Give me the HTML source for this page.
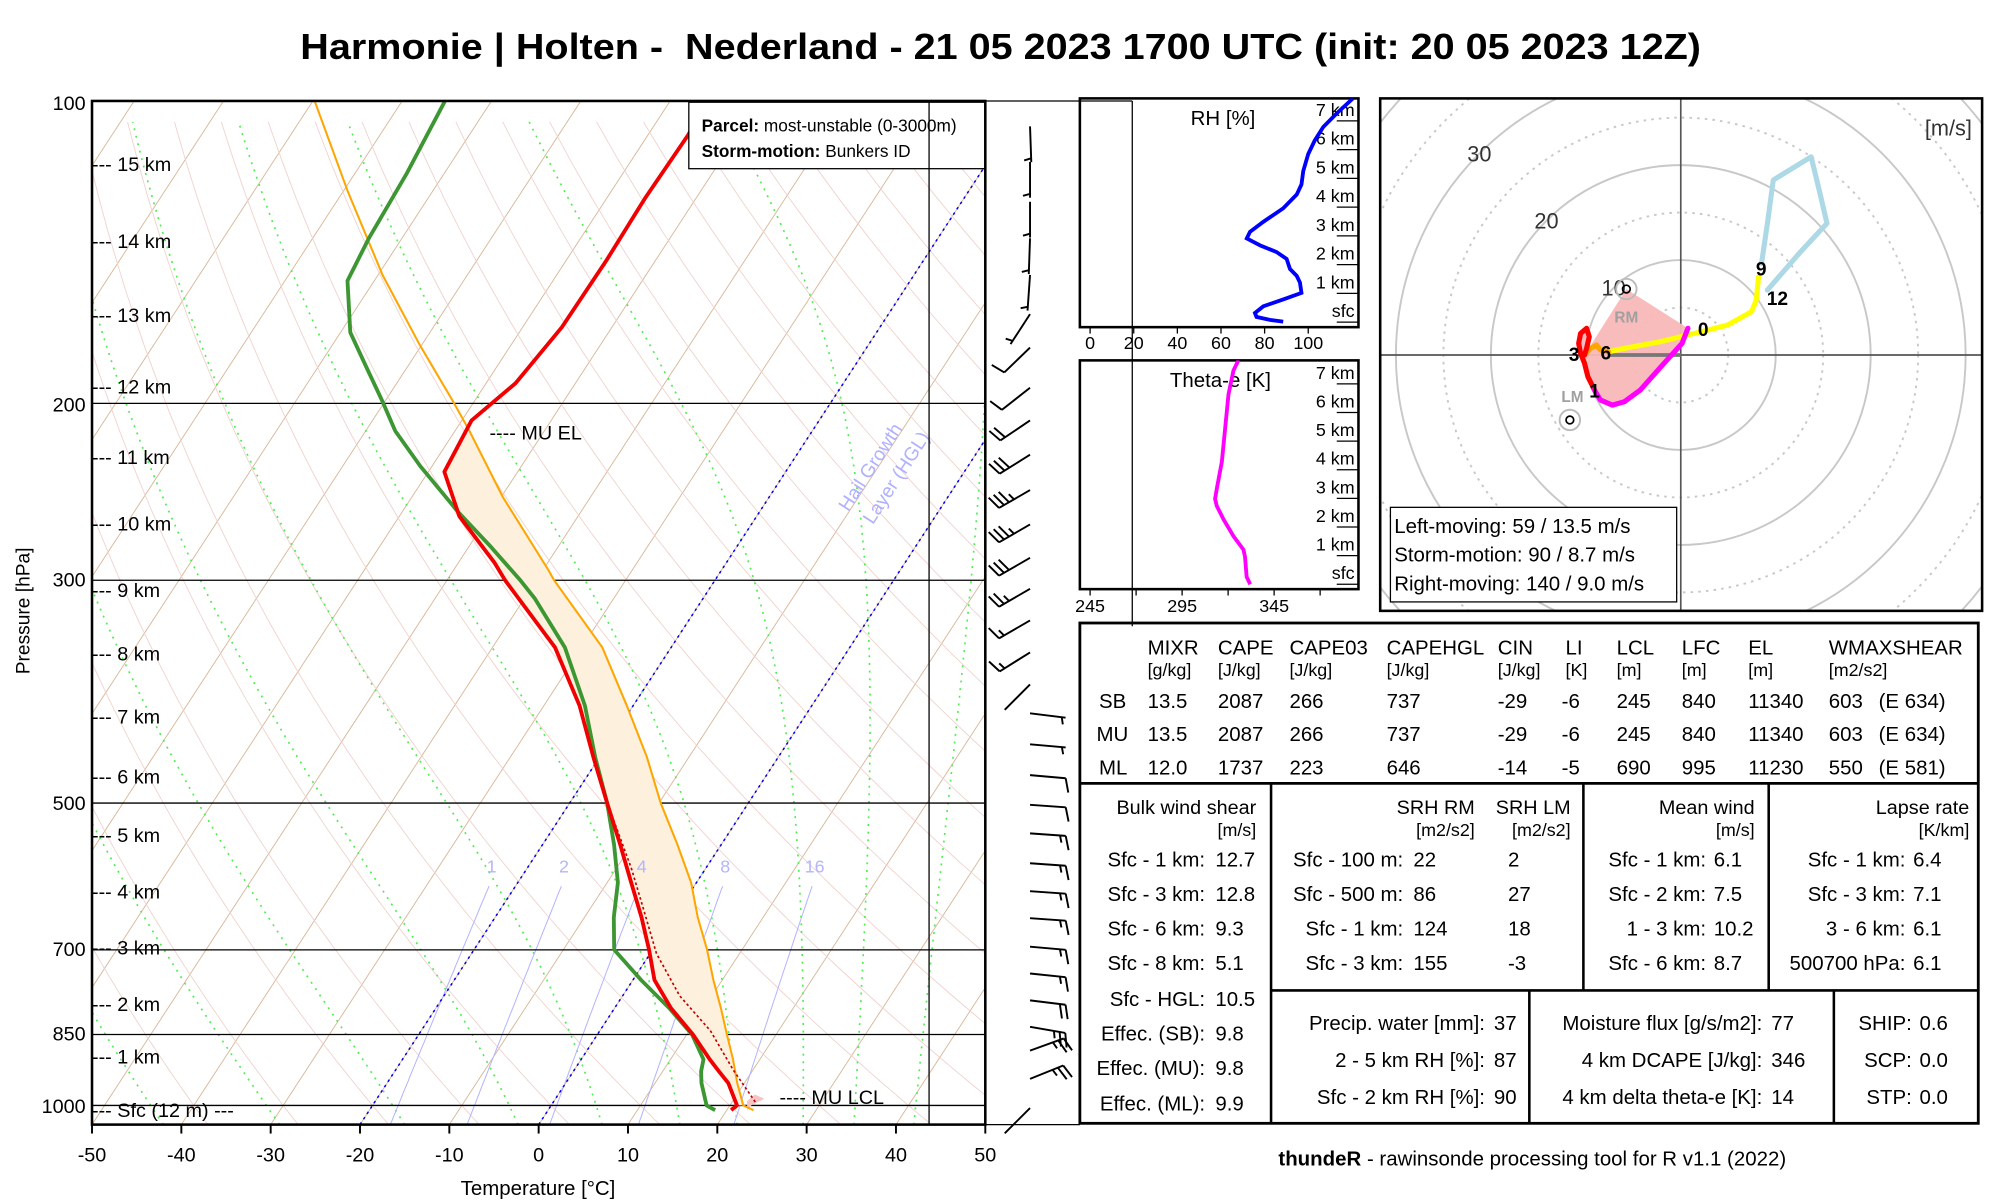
<!DOCTYPE html>
<html><head><meta charset="utf-8">
<style>
html,body{margin:0;padding:0;background:#fff;}
svg{display:block;font-family:"Liberation Sans",Arial,sans-serif;}
</style></head>
<body>
<svg id="chart" xmlns="http://www.w3.org/2000/svg" width="2000" height="1200" viewBox="0 0 1565 939" preserveAspectRatio="none">
<defs>
<clipPath id="skewClip"><rect x="72" y="79" width="699" height="801"/></clipPath>
<clipPath id="rhClip"><rect x="845" y="77" width="218" height="179"/></clipPath>
<clipPath id="thClip"><rect x="845" y="282" width="218" height="179"/></clipPath>
<clipPath id="hodoClip"><rect x="1080" y="77" width="471" height="401"/></clipPath>
</defs>
<rect x="0" y="0" width="1565" height="939" fill="#fff"/>
<text x="783" y="46" text-anchor="middle" font-size="28" font-weight="bold" textLength="1096" lengthAdjust="spacingAndGlyphs" xml:space="preserve">Harmonie | Holten -  Nederland - 21 05 2023 1700 UTC (init: 20 05 2023 12Z)</text>

<g id="skewBg" clip-path="url(#skewClip)"></g>
<g id="skewData" clip-path="url(#skewClip)"></g>
<g id="skewAxes" font-size="15.5">
<text x="67" y="86" text-anchor="end">100</text>
<text x="67" y="322" text-anchor="end">200</text>
<text x="67" y="459" text-anchor="end">300</text>
<text x="67" y="634" text-anchor="end">500</text>
<text x="67" y="748" text-anchor="end">700</text>
<text x="67" y="814" text-anchor="end">850</text>
<text x="67" y="871" text-anchor="end">1000</text>
<text transform="translate(23,478) rotate(-90)" text-anchor="middle" font-size="15">Pressure [hPa]</text>
<text x="421" y="935" text-anchor="middle" font-size="16">Temperature [°C]</text>
</g>
<g id="heightLabels" font-size="15.5">
<text x="72" y="134">--- 15 km</text><text x="72" y="194">--- 14 km</text><text x="72" y="252">--- 13 km</text>
<text x="72" y="308">--- 12 km</text><text x="72" y="363">--- 11 km</text><text x="72" y="415">--- 10 km</text>
<text x="72" y="467">--- 9 km</text><text x="72" y="517">--- 8 km</text><text x="72" y="566">--- 7 km</text>
<text x="72" y="613">--- 6 km</text><text x="72" y="659">--- 5 km</text><text x="72" y="703">--- 4 km</text>
<text x="72" y="747">--- 3 km</text><text x="72" y="791">--- 2 km</text><text x="72" y="832">--- 1 km</text>
<text x="72" y="874">--- Sfc (12 m) ---</text>
</g>
<text x="383" y="344" font-size="15.5">---- MU EL</text>
<text x="610" y="864" font-size="15.5">---- MU LCL</text>
<g fill="#b0b0ff" font-size="15">
<text transform="translate(664,401) rotate(-57)">Hail Growth</text>
<text transform="translate(683,411) rotate(-57)">Layer (HGL)</text>
</g>
<g>
<rect x="539" y="80" width="232" height="52" fill="#fff" stroke="#000" stroke-width="1"/>
<text x="549" y="103" font-size="13.5"><tspan font-weight="bold">Parcel:</tspan> most-unstable (0-3000m)</text>
<text x="549" y="123" font-size="13.5"><tspan font-weight="bold">Storm-motion:</tspan> Bunkers ID</text>
</g>
<g id="barbs"></g>

<g id="rhPanel"></g>
<g id="thPanel"></g>
<g id="hodo"></g>

<g id="table" font-size="16">
<rect x="845" y="487.5" width="703" height="391.5" fill="none" stroke="#000" stroke-width="2.2"/>
<line x1="845" y1="613" x2="1548" y2="613" stroke="#000" stroke-width="2.2"/>
<line x1="994.6" y1="613" x2="994.6" y2="879" stroke="#000" stroke-width="2"/>
<line x1="1239" y1="613" x2="1239" y2="775" stroke="#000" stroke-width="2"/>
<line x1="1384" y1="613" x2="1384" y2="775" stroke="#000" stroke-width="2"/>
<line x1="994.6" y1="775" x2="1548" y2="775" stroke="#000" stroke-width="2"/>
<line x1="1196.7" y1="775" x2="1196.7" y2="879" stroke="#000" stroke-width="2"/>
<line x1="1435" y1="775" x2="1435" y2="879" stroke="#000" stroke-width="2"/>
<g>
<text x="898" y="512">MIXR</text><text x="953" y="512">CAPE</text><text x="1009" y="512">CAPE03</text><text x="1085" y="512">CAPEHGL</text><text x="1172" y="512">CIN</text><text x="1225" y="512">LI</text><text x="1265" y="512">LCL</text><text x="1316" y="512">LFC</text><text x="1368" y="512">EL</text><text x="1431" y="512">WMAXSHEAR</text>
<text x="898" y="529" font-size="14">[g/kg]</text><text x="953" y="529" font-size="14">[J/kg]</text><text x="1009" y="529" font-size="14">[J/kg]</text><text x="1085" y="529" font-size="14">[J/kg]</text><text x="1172" y="529" font-size="14">[J/kg]</text><text x="1225" y="529" font-size="14">[K]</text><text x="1265" y="529" font-size="14">[m]</text><text x="1316" y="529" font-size="14">[m]</text><text x="1368" y="529" font-size="14">[m]</text><text x="1431" y="529" font-size="14">[m2/s2]</text>
</g>
<g><text x="860" y="554">SB</text><text x="898" y="554">13.5</text><text x="953" y="554">2087</text><text x="1009" y="554">266</text><text x="1085" y="554">737</text><text x="1172" y="554">-29</text><text x="1222" y="554">-6</text><text x="1265" y="554">245</text><text x="1316" y="554">840</text><text x="1368" y="554">11340</text><text x="1431" y="554">603</text><text x="1470" y="554">(E 634)</text></g>
<g><text x="858" y="580">MU</text><text x="898" y="580">13.5</text><text x="953" y="580">2087</text><text x="1009" y="580">266</text><text x="1085" y="580">737</text><text x="1172" y="580">-29</text><text x="1222" y="580">-6</text><text x="1265" y="580">245</text><text x="1316" y="580">840</text><text x="1368" y="580">11340</text><text x="1431" y="580">603</text><text x="1470" y="580">(E 634)</text></g>
<g><text x="860" y="606">ML</text><text x="898" y="606">12.0</text><text x="953" y="606">1737</text><text x="1009" y="606">223</text><text x="1085" y="606">646</text><text x="1172" y="606">-14</text><text x="1222" y="606">-5</text><text x="1265" y="606">690</text><text x="1316" y="606">995</text><text x="1368" y="606">11230</text><text x="1431" y="606">550</text><text x="1470" y="606">(E 581)</text></g>

<g>
<text x="983" y="637" text-anchor="end" font-size="15.5">Bulk wind shear</text><text x="983" y="654" text-anchor="end" font-size="14">[m/s]</text>
<g text-anchor="end"><text x="943" y="678">Sfc - 1 km:</text><text x="943" y="705">Sfc - 3 km:</text><text x="943" y="732">Sfc - 6 km:</text><text x="943" y="759">Sfc - 8 km:</text><text x="943" y="787">Sfc - HGL:</text><text x="943" y="814">Effec. (SB):</text><text x="943" y="841">Effec. (MU):</text><text x="943" y="869">Effec. (ML):</text></g>
<text x="951" y="678">12.7</text><text x="951" y="705">12.8</text><text x="951" y="732">9.3</text><text x="951" y="759">5.1</text><text x="951" y="787">10.5</text><text x="951" y="814">9.8</text><text x="951" y="841">9.8</text><text x="951" y="869">9.9</text>
</g>
<g>
<text x="1154" y="637" text-anchor="end" font-size="15.5">SRH RM</text><text x="1229" y="637" text-anchor="end" font-size="15.5">SRH LM</text>
<text x="1154" y="654" text-anchor="end" font-size="14">[m2/s2]</text><text x="1229" y="654" text-anchor="end" font-size="14">[m2/s2]</text>
<g text-anchor="end"><text x="1098" y="678">Sfc - 100 m:</text><text x="1098" y="705">Sfc - 500 m:</text><text x="1098" y="732">Sfc - 1 km:</text><text x="1098" y="759">Sfc - 3 km:</text></g>
<text x="1106" y="678">22</text><text x="1106" y="705">86</text><text x="1106" y="732">124</text><text x="1106" y="759">155</text>
<text x="1180" y="678">2</text><text x="1180" y="705">27</text><text x="1180" y="732">18</text><text x="1180" y="759">-3</text>
</g>
<g>
<text x="1373" y="637" text-anchor="end" font-size="15.5">Mean wind</text><text x="1373" y="654" text-anchor="end" font-size="14">[m/s]</text>
<g text-anchor="end"><text x="1335" y="678">Sfc - 1 km:</text><text x="1335" y="705">Sfc - 2 km:</text><text x="1335" y="732">1 - 3 km:</text><text x="1335" y="759">Sfc - 6 km:</text></g>
<text x="1341" y="678">6.1</text><text x="1341" y="705">7.5</text><text x="1341" y="732">10.2</text><text x="1341" y="759">8.7</text>
</g>
<g>
<text x="1541" y="637" text-anchor="end" font-size="15.5">Lapse rate</text><text x="1541" y="654" text-anchor="end" font-size="14">[K/km]</text>
<g text-anchor="end"><text x="1491" y="678">Sfc - 1 km:</text><text x="1491" y="705">Sfc - 3 km:</text><text x="1491" y="732">3 - 6 km:</text><text x="1491" y="759">500700 hPa:</text></g>
<text x="1497" y="678">6.4</text><text x="1497" y="705">7.1</text><text x="1497" y="732">6.1</text><text x="1497" y="759">6.1</text>
</g>
<g>
<g text-anchor="end"><text x="1162" y="806">Precip. water [mm]:</text><text x="1162" y="835">2 - 5 km RH [%]:</text><text x="1162" y="864">Sfc - 2 km RH [%]:</text>
<text x="1379" y="806">Moisture flux [g/s/m2]:</text><text x="1379" y="835">4 km DCAPE [J/kg]:</text><text x="1379" y="864">4 km delta theta-e [K]:</text>
<text x="1496" y="806">SHIP:</text><text x="1496" y="835">SCP:</text><text x="1496" y="864">STP:</text></g>
<text x="1169" y="806">37</text><text x="1169" y="835">87</text><text x="1169" y="864">90</text>
<text x="1386" y="806">77</text><text x="1386" y="835">346</text><text x="1386" y="864">14</text>
<text x="1502" y="806">0.6</text><text x="1502" y="835">0.0</text><text x="1502" y="864">0.0</text>
</g>
</g>
<text x="1199" y="912" text-anchor="middle" font-size="16"><tspan font-weight="bold">thundeR</tspan> - rawinsonde processing tool for R v1.1 (2022)</text>
</svg>

<script>
// ===== Sounding data =====
const tempP = [1011,1000,950,925,900,850,800,750,700,650,600,550,500,450,400,350,300,288,259,234,208,191,168,144,125,108,100];
const tempT = [20.5,20.8,18.2,16.3,14.4,10.7,6.3,2.4,-0.4,-3.6,-7.3,-11.3,-15.8,-20.7,-26.0,-33.0,-43.5,-46.0,-53.3,-58.2,-58.9,-56.7,-55.6,-55.5,-55.7,-55.5,-55.9];
const dewP = [1011,1000,950,925,900,850,800,750,700,650,600,550,500,450,400,350,313,300,278,257,231,213,199,184,170,151,137,118,100];
const dewT = [18.7,17.4,15.2,14.3,13.7,10.6,6.1,0.9,-4.3,-6.7,-8.8,-12.0,-15.8,-20.5,-25.4,-31.9,-38.8,-41.8,-47.5,-53.6,-61.3,-66.7,-70.3,-74.6,-78.9,-83.0,-83.7,-84.2,-85.2];
const parcelP = [1011,1000,950,900,850,800,750,700,650,600,550,500,450,400,350,300,293,248,213,199,175,149,123,100];
const parcelT = [23.0,21.5,19.2,17.0,14.5,11.9,9.0,6.1,2.7,-0.6,-4.9,-9.8,-14.7,-20.7,-27.7,-38.0,-39.4,-49.8,-58.4,-62.4,-70.2,-79.5,-89.5,-99.8];
const tvP = [992,922,843,778,706,643,581,513];
const tvT = [22.6,17.8,12.4,6.4,0.7,-3.6,-8.3,-14.5];
const cinP = [1011,1000,985,975,990];
const cinT = [22.3,22.4,23.4,22.0,21.6];
const pressureTicks = [100,200,300,500,700,850,1000];
const tempTicks = [-50,-40,-30,-20,-10,0,10,20,30,40,50];
const mixRatios = [1,2,4,8,16];
// wind barbs
const barbP = [106,115,126,137,149,163,176,193,208,225,244,264,285,306,329,354,381,407,437,469,502,536,574,612,651,695,739,786,835,882,941,1006];
const barbDir = [178,180,180,182,184,213,226,232,236,238,240,240,240,240,240,238,225,97,95,95,94,94,94,94,94,95,96,97,100,70,68,225];
const barbSpd = [5,5,5,5,5,5,10,10,20,30,35,35,30,25,15,15,0,5,5,10,10,15,15,15,15,15,15,20,25,25,25,3];
// RH and theta-e profiles
const rhH = [0.02,0.08,0.18,0.32,0.55,0.79,1.02,1.38,1.61,1.85,2.2,2.44,2.67,2.91,3.14,3.49,3.96,4.44,4.79,5.26,5.85,6.32,6.79,7.26,7.79];
const rhV = [88.5,82.4,76.3,75.6,79.4,88.5,96.9,96.2,94.7,91.6,90.1,85.5,77.9,71.8,73.3,79.4,88.5,94.7,96.9,97.7,100,103,106.9,113,120.6];
const thH = [0,0.26,0.97,1.21,1.68,2.27,2.74,2.98,3.33,4.28,5.46,6.64,7.47,7.83];
const thV = [332,330.1,329.2,328.3,322.9,317.5,313.8,312.9,313.8,316.6,318.4,320.2,322.9,325.6];
const rhTicks = [0,20,40,60,80,100];
const thTicks = [245,295,345];
// hodograph (u, v in m/s)
const hodoMagU = [0.75,0.13,-1.76,-4.27,-5.94,-7.2,-8.46,-9.08];
const hodoMagV = [2.81,1.23,-0.88,-3.69,-4.91,-5.27,-4.74,-3.69];
const hodoRedU = [-9.08,-9.79,-10.13,-10.55,-10.76,-10.55,-9.92,-9.63,-9.92,-10.13];
const hodoRedV = [-3.69,-2.28,-0.88,0.18,1.23,2.28,2.81,1.93,0.70,0];
const hodoOrU = [-10.13,-9.5,-8.87,-8.46,-7.62];
const hodoOrV = [0,0.7,1.05,0.53,0.35];
const hodoYelU = [-7.62,-5.94,-2.18,0.75,2.85,4.94,7.45,7.95,8.2];
const hodoYelV = [0.35,0.70,1.4,2.11,2.63,3.16,4.56,5.79,8.25];
const hodoBlueU = [8.5,9.12,9.75,13.73,14.57,15.4,12.47,9.12];
const hodoBlueV = [9.65,13.86,18.43,20.88,17.37,13.86,10.71,6.84];
const rmU = -5.73, rmV = 6.95, lmU = -11.68, lmV = -6.84;
const ringSpeeds = [5,10,15,20,25,30,35,40,45];
const ringLabels = [10,20,30];

const NS = "http://www.w3.org/2000/svg";
const svg = document.getElementById('chart');
function mk(tag, parent){ const e = document.createElementNS(NS, tag); parent.appendChild(e); return e; }
function set(e, o){ for (const k in o) e.setAttribute(k, o[k]); return e; }

// ===== Skew-T axes =====
const X0 = 421.5, DX = 6.99, K = 0.652, YB = 880;
function yP(p){ return 79 + 786*Math.log10(p/100); }
function xT(T,p){ return X0 + DX*T + K*(YB - yP(p)); }
function pFromY(y){ return 100*Math.pow(10,(y-79)/786); }
const PB = pFromY(880);

const bg = document.getElementById('skewBg');
function polyline(parent, pts, style){ const e = mk('polyline', parent); set(e, Object.assign({points: pts.map(q=>q[0].toFixed(1)+','+q[1].toFixed(1)).join(' '), fill:'none'}, style)); return e; }

for (let T=-160; T<=50; T+=10){
  const l = polyline(bg, [[xT(T,PB),yP(PB)],[xT(T,100),yP(100)]], {stroke:'#d6b596','stroke-width':0.7});
  
  
}
for (let th=-40; th<=250; th+=10){
  const pts=[]; for (let p=PB; p>=99; p-=10){ const T=(th+273.15)*Math.pow(p/1000,0.2857)-273.15; pts.push([xT(T,p),yP(p)]); }
  const l = polyline(bg, pts, {stroke:'#efd2cd','stroke-width':0.7});
  
  
}
function es(T){ return 6.112*Math.exp(17.67*T/(T+243.5)); }
[-42,-29,-15,-2.3,7.1,15.8,22.2,29.6,35.3,42].forEach(T0=>{
  let T=T0, pts=[];
  for (let p=PB; p>=100; p-=5){
    pts.push([xT(T,p),yP(p)]);
    const Tk=T+273.15, e=es(T), rs=0.622*e/(p-e);
    const dTdp=(287*Tk+2.5e6*rs)/(1004+(2.5e6*2.5e6*rs*0.622)/(287*Tk*Tk))/p;
    T -= dTdp*5;
  }
  const l = polyline(bg, pts, {stroke:'#4cee4c','stroke-width':1.3,'stroke-dasharray':'1.5,4.5'});
  
  
});
mixRatios.forEach(w=>{
  const pts=[]; for (let p=PB; p>=600; p-=10){ const e=w/1000*p/(0.622+w/1000); const a=Math.log(e/6.112); const Td=243.5*a/(17.67-a); pts.push([xT(Td,p),yP(p)]); }
  const l = polyline(bg, pts, {stroke:'#b4b4ff','stroke-width':0.8});
  
  
  const t = mk('text', svg); set(t,{x:pts[pts.length-1][0]+2, y:yP(600)-8, 'font-size':14, fill:'#b4b4ff','text-anchor':'middle'}); t.textContent=String(w);
  
  
});
[0,-20].forEach(T=>{
  const l = polyline(bg, [[xT(T,PB),yP(PB)],[xT(T,100),yP(100)]], {stroke:'#0000ee','stroke-width':1.2,'stroke-dasharray':'2,3'});
  
  
});
pressureTicks.forEach(p=>{
  const l = mk('line', bg); set(l,{x1:72,x2:771,y1:yP(p),y2:yP(p),stroke:'#000','stroke-width':1});
  
  
});
{ const l = mk('line', svg); set(l,{x1:727,x2:727,y1:79,y2:880,stroke:'#000','stroke-width':1});
  
   }

const dg = document.getElementById('skewData');
function seriesPts(P,T){ return P.map((p,i)=>[xT(T[i],p),yP(p)]); }
{
  const up = []; parcelP.forEach((p,i)=>{ if(p<=1000 && p>=213) up.push([xT(parcelT[i],p),yP(p)]); });
  const dn = []; tempP.forEach((p,i)=>{ if(p<=1000 && p>=213) dn.push([xT(tempT[i],p),yP(p)]); });
  const pts = up.concat(dn.reverse());
  const a = mk('polygon', dg); set(a,{points:pts.map(q=>q[0].toFixed(1)+','+q[1].toFixed(1)).join(' '), fill:'#fdf0dc', stroke:'none'});
  
  
  const c = mk('polygon', dg); set(c,{points:seriesPts(cinP,cinT).map(q=>q[0].toFixed(1)+','+q[1].toFixed(1)).join(' '), fill:'#f7c4c4'});
  
  
}
{ const l = polyline(dg, seriesPts(parcelP,parcelT), {stroke:'#ffa500','stroke-width':1.6});
  
   }
{ const l = polyline(dg, seriesPts(tvP,tvT), {stroke:'#c00000','stroke-width':1.3,'stroke-dasharray':'2,2'});
  
   }
{ const l = polyline(dg, seriesPts(dewP,dewT), {stroke:'#3c9632','stroke-width':3,'stroke-linejoin':'round'});
  
   }
{ const l = polyline(dg, seriesPts(tempP,tempT), {stroke:'#f00000','stroke-width':3,'stroke-linejoin':'round'});
  
   }

{ const f = mk('rect', svg); set(f,{x:72,y:79,width:699,height:801,fill:'none',stroke:'#000','stroke-width':2});
  
   }
{ const l = mk('line', svg); set(l,{x1:771,x2:845,y1:79,y2:79,stroke:'#000','stroke-width':1});
  
  
  const l2 = mk('line', svg); set(l2,{x1:771,x2:845,y1:880,y2:880,stroke:'#000','stroke-width':1});
  
   }
tempTicks.forEach(T=>{
  const x = X0 + DX*T;
  const tk = mk('line', svg); set(tk,{x1:x,x2:x,y1:880,y2:887,stroke:'#000','stroke-width':1.5});
  
  
  const t = mk('text', svg); set(t,{x:x, y:909, 'text-anchor':'middle','font-size':15.5}); t.textContent=String(T);
  
  
});

const bgBarb = document.getElementById('barbs');
barbP.forEach((p,i)=>{
  const ax = 806, ay = yP(p), L = 28;
  const d = barbDir[i]*Math.PI/180, ux = Math.sin(d), uy = -Math.cos(d);
  const ex = ax + ux*L, ey = ay + uy*L;
  const g = mk('g', bgBarb);
  
  
  const s = mk('line', g); set(s,{x1:ax,y1:ay,x2:ex,y2:ey,stroke:'#000','stroke-width':1.5});
  let spd = barbSpd[i], pos = 0;
  const fx = -uy, fy = ux;
  while (spd >= 10){ const bx=ex-ux*pos, by=ey-uy*pos; const f=mk('line',g); set(f,{x1:bx,y1:by,x2:bx+fx*11+ux*3,y2:by+fy*11+uy*3,stroke:'#000','stroke-width':1.5}); spd-=10; pos+=4.5; }
  if (spd >= 5){ if(pos===0) pos=3; const bx=ex-ux*pos, by=ey-uy*pos; const f=mk('line',g); set(f,{x1:bx,y1:by,x2:bx+fx*5.5+ux*1.5,y2:by+fy*5.5+uy*1.5,stroke:'#000','stroke-width':1.5}); }
});

// ===== RH / theta panels =====
const rhG = document.getElementById('rhPanel');
function rhX(v){ return 853 + v*1.707; }
function rhY(h){ return 252.1 - 22.5*h; }
function thX(v){ return 853 + (v-245)*1.44; }
function thY(h){ return 457.2 - 22.4*h; }
function panel(g, y0, name, title, hY, ticks, tx, tickLabelY){
  const r = mk('rect', g); set(r,{x:845,y:y0,width:218,height:179,fill:'#fff',stroke:'#000','stroke-width':2});
  
  
  const t = mk('text', g); set(t,{x:name==='rh'?957:955,y:y0+21,'text-anchor':'middle','font-size':16}); t.textContent=title;
  
  
  const labs=['sfc','1 km','2 km','3 km','4 km','5 km','6 km','7 km'];
  labs.forEach((lb,h)=>{
    const y = hY(h);
    const ln = mk('line', g); set(ln,{x1:1046,x2:1063,y1:y,y2:y,stroke:'#000','stroke-width':1});
    
    
    const tt = mk('text', g); set(tt,{x:1060,y:y-4,'text-anchor':'end','font-size':14}); tt.textContent=lb;
    
    
  });
  ticks.forEach(v=>{
    const x = tx(v);
    const tk = mk('line', g); set(tk,{x1:x,x2:x,y1:y0+179,y2:y0+184,stroke:'#000','stroke-width':1});
    
    
    const tl = mk('text', g); set(tl,{x:x,y:tickLabelY,'text-anchor':'middle','font-size':14}); tl.textContent=String(v);
    
    
  });
}
panel(rhG, 77, 'rh', 'RH [%]', rhY, rhTicks, rhX, 273);
{ const l = polyline(rhG, rhH.map((h,i)=>[rhX(rhV[i]),rhY(h)]), {stroke:'#0000ff','stroke-width':3,'clip-path':'url(#rhClip)'});
  
   }
const thG = document.getElementById('thPanel');
panel(thG, 282, 'theta', 'Theta-e [K]', thY, thTicks, thX, 479);
[270,320,370].forEach(v=>{ const x=thX(v); const tk=mk('line',thG); set(tk,{x1:x,x2:x,y1:461,y2:466,stroke:'#000'});
  
   });
{ const l = polyline(thG, thH.map((h,i)=>[thX(thV[i]),thY(h)]), {stroke:'#ff00ff','stroke-width':3,'clip-path':'url(#thClip)'});
  
   }
{ const l = mk('line', svg); set(l,{x1:886,x2:886,y1:79,y2:490,stroke:'#000','stroke-width':1});
  
  
  const l2 = mk('line', svg); set(l2,{x1:845,x2:886,y1:79,y2:79,stroke:'#000','stroke-width':1});
  
   }

// ===== Hodograph =====
const hg = document.getElementById('hodo');
const HX = 1315.2, HY = 277.8, HS = 7.43;
function hx(u){ return HX + u*HS; }
function hy(v){ return HY - v*HS; }
{ const r = mk('rect', hg); set(r,{x:1080,y:77,width:471,height:401,fill:'#fff'});
  
   }
const hc = mk('g', hg); hc.setAttribute('clip-path','url(#hodoClip)');
ringSpeeds.forEach(s=>{
  const c = mk('circle', hc); set(c,{cx:HX,cy:HY,r:s*HS,fill:'none',stroke:'#c8c8c8','stroke-width':1.5});
  if (s%10) c.setAttribute('stroke-dasharray','2,4');
  
  
});
{ const a = mk('line', hc); set(a,{x1:1080,x2:1551,y1:HY,y2:HY,stroke:'#555','stroke-width':1.3});
  
  
  const b = mk('line', hc); set(b,{x1:HX,x2:HX,y1:77,y2:478,stroke:'#555','stroke-width':1.3});
  
   }
ringLabels.forEach(s=>{
  const t = mk('text', hg); set(t,{x:HX - s*HS*0.707, y:HY - s*HS*0.707 + 6,'text-anchor':'middle','font-size':17,fill:'#333'}); t.textContent=String(s);
  
  
});
{ const t = mk('text', hg); set(t,{x:1543,y:106,'text-anchor':'end','font-size':17,fill:'#333'}); t.textContent='[m/s]';
  
   }
{
  const U=[rmU].concat(hodoMagU, hodoRedU), V=[rmV].concat(hodoMagV, hodoRedV);
  const a = mk('polygon', hc); set(a,{points:U.map((u,i)=>hx(u).toFixed(1)+','+hy(V[i]).toFixed(1)).join(' '), fill:'#f9b8b8', opacity:0.95});
  
  
}
{ const l = mk('line', hc); set(l,{x1:HX,y1:HY,x2:hx(-7.6),y2:hy(0),stroke:'#777','stroke-width':3});
  
   }
function hodoLine(U,V,col,name){
  const l = polyline(hc, U.map((u,i)=>[hx(u),hy(V[i])]), {stroke:col,'stroke-width':4,'stroke-linejoin':'round','stroke-linecap':'round'});
  
  
}
hodoLine(hodoBlueU,hodoBlueV,'#add8e6','hodograph-9-12km');
hodoLine(hodoYelU,hodoYelV,'#ffff00','hodograph-6-9km');
hodoLine(hodoOrU,hodoOrV,'#ffa500','hodograph-3-6km');
hodoLine(hodoRedU,hodoRedV,'#ff0000','hodograph-1-3km');
hodoLine(hodoMagU,hodoMagV,'#ff00ff','hodograph-0-1km');
[[rmU,rmV,'rm'],[lmU,lmV,'lm']].forEach(s=>{
  const c1 = mk('circle', hg); set(c1,{cx:hx(s[0]),cy:hy(s[1]),r:8,fill:'none',stroke:'#bbb','stroke-width':1.5});
  
  
  const c2 = mk('circle', hg); set(c2,{cx:hx(s[0]),cy:hy(s[1]),r:3,fill:'none',stroke:'#000','stroke-width':1.3});
  
  
});
{ const t = mk('text', hg); set(t,{x:hx(rmU),y:hy(rmV)+26,'text-anchor':'middle','font-size':12,'font-weight':'bold',fill:'#a0a0a0'}); t.textContent='RM';
  
  
  const t2 = mk('text', hg); set(t2,{x:hx(lmU)+2,y:hy(lmV)-14,'text-anchor':'middle','font-size':12,'font-weight':'bold',fill:'#a0a0a0'}); t2.textContent='LM';
  
   }
const hLabU = [0.75,-9.08,-10.3,-7.62,8.2,9.1], hLabV=[2.81,-3.69,0.2,0.35,8.25,6.1], hLabT=['0','1','3','6','9','12'];
const hLabDx = [12,0,-7,-2,2,8];
hLabT.forEach((s,i)=>{
  const t = mk('text', hg); set(t,{x:hx(hLabU[i])+hLabDx[i],y:hy(hLabV[i])+(i===4?-1:6),'text-anchor':'middle','font-size':15,'font-weight':'bold'}); t.textContent=s;
  
  
});
{ const r = mk('rect', hg); set(r,{x:1088,y:397,width:224,height:74,fill:'#fff',stroke:'#000','stroke-width':1});
  
  
  ['Left-moving: 59 / 13.5 m/s','Storm-motion: 90 / 8.7 m/s','Right-moving: 140 / 9.0 m/s'].forEach((s,i)=>{
    const t = mk('text', hg); set(t,{x:1091,y:417+i*22.5,'font-size':16}); t.textContent=s;
    
    
  });
  const f = mk('rect', hg); set(f,{x:1080,y:77,width:471,height:401,fill:'none',stroke:'#000','stroke-width':2});
  
   }
</script>
</body></html>
